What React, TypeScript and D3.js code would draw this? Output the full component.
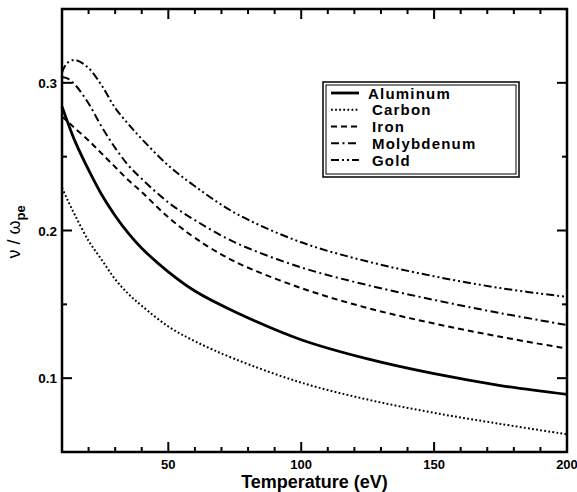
import React, { useEffect, useRef } from 'react';
import * as d3 from 'd3';

// temperature samples (eV)
const temps = [10, 12, 15, 20, 25, 30, 35, 40, 50, 60, 75, 100, 125, 150, 175, 200];

// collision frequency / plasma frequency
const aluminum = [0.284, 0.274, 0.26, 0.241, 0.224, 0.21, 0.198, 0.188, 0.172, 0.159, 0.145, 0.126, 0.113, 0.103, 0.095, 0.089];
const carbon = [0.229, 0.221, 0.21, 0.193, 0.18, 0.167, 0.157, 0.149, 0.135, 0.125, 0.113, 0.097, 0.0855, 0.0765, 0.069, 0.062];
const iron = [0.277, 0.274, 0.269, 0.261, 0.252, 0.243, 0.234, 0.226, 0.209, 0.195, 0.179, 0.161, 0.1475, 0.137, 0.128, 0.12];
const molybdenum = [0.304, 0.303, 0.2985, 0.286, 0.27, 0.256, 0.244, 0.235, 0.219, 0.207, 0.192, 0.175, 0.163, 0.153, 0.144, 0.136];
const gold = [0.307, 0.3135, 0.3155, 0.31, 0.298, 0.283, 0.272, 0.262, 0.244, 0.23, 0.212, 0.192, 0.179, 0.169, 0.161, 0.155];

const seriesNames = ['Aluminum', 'Carbon', 'Iron', 'Molybdenum', 'Gold'];
const seriesValues = [aluminum, carbon, iron, molybdenum, gold];

const xMajorTicks = [50, 100, 150, 200];
const yMajorTicks = [0.1, 0.2, 0.3];

const dashes = [null, '1.8,2.3', '6,4', '8,3.5,2,3.5', '8,3,2,3,2,3'];
const widths = [2.8, 2, 2, 2, 2];

const App: React.FC = () => {
  const svgRef = useRef<SVGSVGElement>(null);

  useEffect(() => {
    if (!svgRef.current) return;
    const width = 577;
    const height = 492;
    const left = 62, right = 567, top = 9, bottom = 452;
    const svg = d3.select(svgRef.current);
    svg.selectAll('*').remove();

    svg.append('rect').attr('width', width).attr('height', height).attr('fill', '#ffffff');

    const x = d3.scaleLinear().domain([10, 200]).range([left, right]);
    const y = d3.scaleLinear().domain([0.05, 0.35]).range([bottom, top]);
    const font = "'Liberation Sans', Arial, Helvetica, sans-serif";

    // curves
    const line = d3.line<[number, number]>()
      .x(d => x(d[0]))
      .y(d => y(d[1]))
      .curve(d3.curveCatmullRom.alpha(0.5));

    seriesValues.forEach((vals, i) => {
      const pts = temps.map((t, j) => [t, vals[j]] as [number, number]);
      const p = svg.append('path')
        .datum(pts)
        .attr('fill', 'none')
        .attr('stroke', '#000')
        .attr('stroke-width', widths[i])
        .attr('d', line);
      if (dashes[i]) p.attr('stroke-dasharray', dashes[i] as string);
    });

    // ticks, inward on all four sides
    const ticks = svg.append('g').attr('stroke', '#000').attr('stroke-width', 2);
    d3.range(20, 200, 10).forEach(t => {
      const len = t % 50 === 0 ? 10 : 5;
      ticks.append('line').attr('x1', x(t)).attr('x2', x(t)).attr('y1', bottom).attr('y2', bottom - len);
      ticks.append('line').attr('x1', x(t)).attr('x2', x(t)).attr('y1', top).attr('y2', top + len);
    });
    [0.1, 0.15, 0.2, 0.25, 0.3].forEach(v => {
      const len = yMajorTicks.includes(v) ? 10 : 5;
      ticks.append('line').attr('x1', left).attr('x2', left + len).attr('y1', y(v)).attr('y2', y(v));
      ticks.append('line').attr('x1', right).attr('x2', right - len).attr('y1', y(v)).attr('y2', y(v));
    });

    // frame
    svg.append('rect')
      .attr('x', left).attr('y', top)
      .attr('width', right - left).attr('height', bottom - top)
      .attr('fill', 'none').attr('stroke', '#000').attr('stroke-width', 2.5);

    // tick labels
    xMajorTicks.forEach(t => {
      svg.append('text')
        .attr('x', x(t)).attr('y', 469)
        .attr('text-anchor', 'middle')
        .attr('font-family', font).attr('font-weight', 'bold').attr('font-size', 13)
        .text(t);
    });
    yMajorTicks.forEach(v => {
      svg.append('text')
        .attr('x', 57).attr('y', y(v) + 5)
        .attr('text-anchor', 'end')
        .attr('font-family', font).attr('font-weight', 'bold').attr('font-size', 13.5)
        .text(d3.format('.1f')(v));
    });

    // axis titles
    svg.append('text')
      .attr('x', (left + right) / 2).attr('y', 488)
      .attr('text-anchor', 'middle')
      .attr('font-family', font).attr('font-weight', 'bold').attr('font-size', 18)
      .text('Temperature (eV)');

    const yl = svg.append('text')
      .attr('transform', 'translate(20,232) rotate(-90)')
      .attr('text-anchor', 'middle')
      .attr('font-family', font).attr('font-size', 18);
    yl.append('tspan').text('ν / ω');
    yl.append('tspan').attr('dy', 5).attr('font-size', 13).attr('font-weight', 'bold').text('pe');

    // legend
    const lg = svg.append('g');
    lg.append('rect').attr('x', 323).attr('y', 82).attr('width', 196).attr('height', 95)
      .attr('fill', '#fff').attr('stroke', '#000').attr('stroke-width', 1.5);
    lg.append('rect').attr('x', 326).attr('y', 85).attr('width', 190).attr('height', 89)
      .attr('fill', 'none').attr('stroke', '#000').attr('stroke-width', 1);
    const rowY = d3.scaleLinear().domain([0, 4]).range([93, 160]);
    seriesNames.forEach((name, i) => {
      const ly = rowY(i);
      const l = lg.append('line')
        .attr('x1', 331).attr('x2', 359).attr('y1', ly).attr('y2', ly)
        .attr('stroke', '#000').attr('stroke-width', widths[i]);
      if (dashes[i]) l.attr('stroke-dasharray', dashes[i] as string);
      lg.append('text')
        .attr('x', i === 0 ? 368 : 372).attr('y', ly + 5.5)
        .attr('font-family', font).attr('font-weight', 'bold').attr('font-size', 15)
        .attr('letter-spacing', 1.2)
        .text(name);
    });
  }, []);

  return (
    <svg
      ref={svgRef}
      width={577}
      height={492}
      viewBox="0 0 577 492"
      style={{ position: 'absolute', left: 0, top: 0, display: 'block' }}
    ></svg>
  );
};

export default App;
